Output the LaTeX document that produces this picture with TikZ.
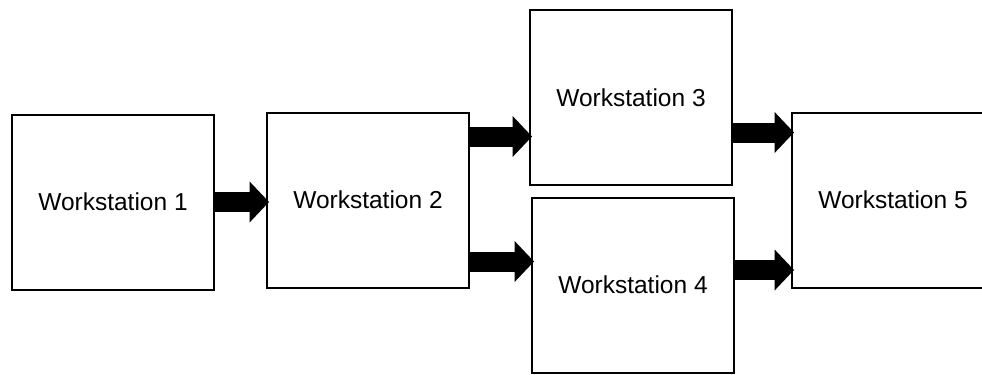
\documentclass[tikz,border=0pt]{standalone}
\usepackage{fontspec}
\setmainfont{Liberation Sans}
\usepackage{tikz}
\usetikzlibrary{arrows.meta,positioning,calc}

\begin{document}
\begin{tikzpicture}[x=0.5pt,y=-0.5pt,
    station/.style={draw=black,line width=1pt,fill=white,minimum width=101pt,minimum height=87.5pt,inner sep=0pt,font=\fontsize{12.25}{14}\selectfont},
    flow/.style={line width=10pt,shorten <=-1pt,shorten >=-1.5pt,-{Triangle[length=9.7pt,width=20.5pt,line width=0pt]}}]

    \useasboundingbox (0,0) rectangle (982,375);

    \node[station] (ws1) at (113,202) {Workstation 1};
    \node[station] (ws2) at (368,200) {Workstation 2};
    \node[station] (ws3) at (631,97.5) {Workstation 3};
    \node[station] (ws4) at (633,285) {Workstation 4};
    \node[station] (ws5) at (893,200) {Workstation 5};

    % fat arrows between the stations
    \coordinate (a23) at ($(ws2.north east)+(0,25)$);
    \coordinate (a24) at ($(ws2.south east)+(0,-27)$);
    \coordinate (a35) at ($(ws3.south east)+(0,-53.5)$);
    \coordinate (a45) at ($(ws4.north east)+(0,73.5)$);

    \draw[flow] (ws1.east) -- (ws1.east -| ws2.west);
    \draw[flow] (a23) -- (a23 -| ws3.west);
    \draw[flow] (a24) -- (a24 -| ws4.west);
    \draw[flow] (a35) -- (a35 -| ws5.west);
    \draw[flow] (a45) -- (a45 -| ws5.west);
\end{tikzpicture}
\end{document}
